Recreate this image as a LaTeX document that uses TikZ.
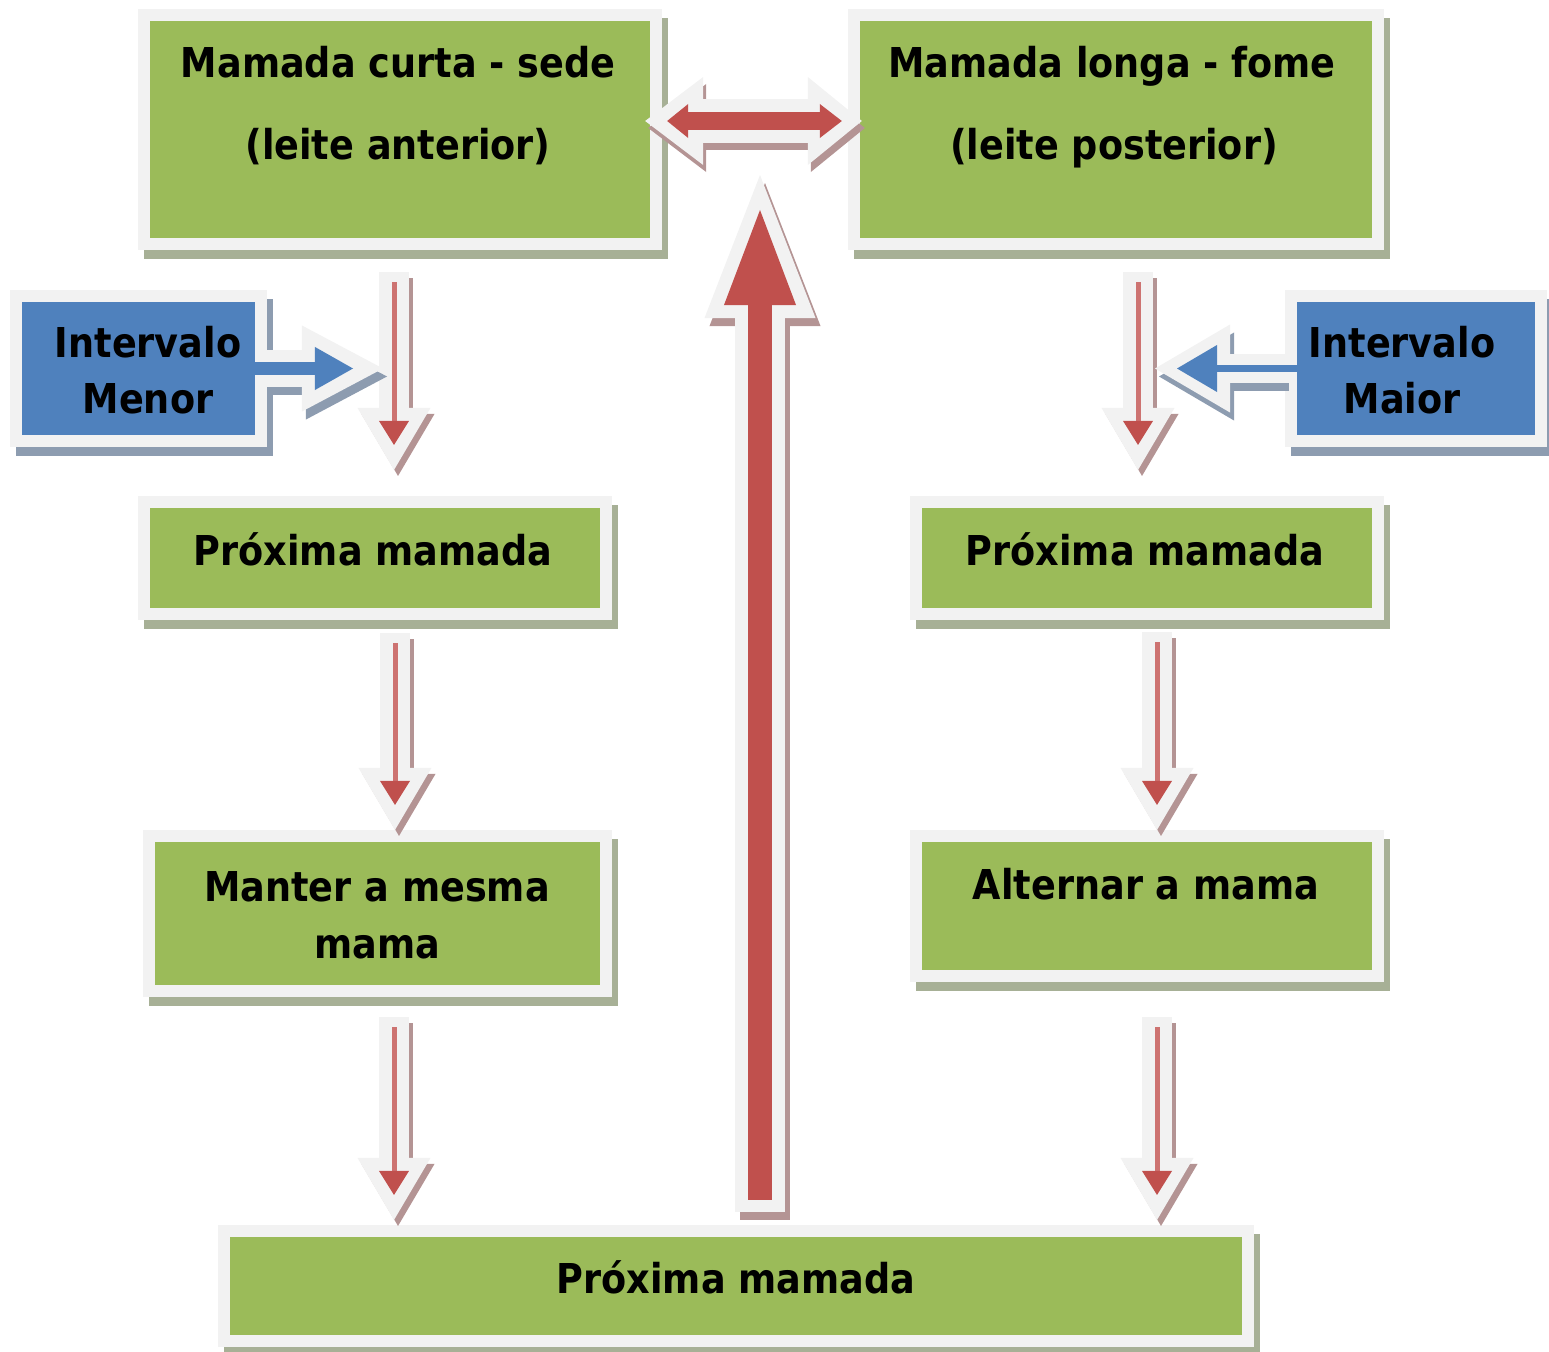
\documentclass[tikz,border=0pt]{standalone}
\usepackage{fontspec}
\usetikzlibrary{arrows.meta,calc}
\newfontfamily\boxfont{DejaVu Sans}[FakeStretch=0.89]

\definecolor{boxgreen}{HTML}{9BBB59}
\definecolor{boxblue}{HTML}{4F81BD}
\definecolor{halo}{HTML}{F2F2F2}
\definecolor{greenshadow}{HTML}{A7B096}
\definecolor{blueshadow}{HTML}{8D9CB0}
\definecolor{arrred}{HTML}{C0504D}
\definecolor{redshadow}{HTML}{B49494}

\tikzset{
  box/.style={rectangle, draw=halo, line width=0.12cm, inner sep=0pt, fill=box#1,
    preaction={draw=#1shadow, fill=#1shadow, line width=0.12cm,
      transform canvas={shift={(0.06cm,-0.09cm)}}}},
  lbl/.style={font=\fontsize{11.7}{14}\boxfont\bfseries, inner sep=0pt, anchor=base},
  % thin down arrows
  downhalo/.style={draw=halo, line width=0.30cm,
    -{Triangle[width=0.73cm,length=0.62cm,line width=0pt]}},
  downshade/.style={downhalo, draw=redshadow, transform canvas={shift={(0.04cm,-0.06cm)}}},
  downred/.style={draw=arrred!80!white, line width=0.05cm,
    -{Triangle[width=0.30cm,length=0.24cm,line width=0pt,color=arrred]}},
  % big arrow back up
  uphalo/.style={draw=halo, line width=0.50cm,
    -{Triangle[width=1.11cm,length=1.43cm,line width=0pt]}},
  upshade/.style={uphalo, draw=redshadow, transform canvas={shift={(0.05cm,-0.08cm)}}},
  upred/.style={draw=arrred, line width=0.24cm,
    -{Triangle[width=0.72cm,length=0.95cm,line width=0pt]}},
  % double arrow on top
  dblhalo/.style={draw=halo, line width=0.44cm,
    {Triangle[width=0.88cm,length=0.58cm,line width=0pt]}-{Triangle[width=0.88cm,length=0.54cm,line width=0pt]}},
  dblshade/.style={dblhalo, draw=redshadow, transform canvas={shift={(0.03cm,-0.07cm)}}},
  dblred/.style={draw=arrred, line width=0.18cm,
    {Triangle[width=0.34cm,length=0.21cm,line width=0pt]}-{Triangle[width=0.34cm,length=0.22cm,line width=0pt]}},
  % blue side arrows
  lefthalo/.style={draw=halo, line width=0.37cm,
    -{Triangle[width=0.86cm,length=0.81cm,line width=0pt]}},
  leftblue/.style={draw=boxblue, line width=0.12cm,
    -{Triangle[width=0.43cm,length=0.38cm,line width=0pt]}},
  righthalo/.style={draw=halo, line width=0.28cm,
    -{Triangle[width=0.88cm,length=0.75cm,line width=0pt]}},
  rightblue/.style={draw=boxblue, line width=0.06cm,
    -{Triangle[width=0.47cm,length=0.40cm,line width=0pt]}},
  sideshade/.style={draw=blueshadow, transform canvas={shift={(0.04cm,-0.08cm)}}}
}

\begin{document}
\begin{tikzpicture}[x=0.01cm,y=-0.01cm]
\useasboundingbox (0,0) rectangle (1549,1352);

% boxes
\node[box=green, minimum width=5.12cm, minimum height=2.29cm] (curta) at (400,129.5) {};
\node[box=green, minimum width=5.24cm, minimum height=2.29cm] (longa) at (1116,129.5) {};
\node[box=blue, minimum width=2.45cm, minimum height=1.45cm] (menor) at (138.5,368.5) {};
\node[box=blue, minimum width=2.50cm, minimum height=1.45cm] (maior) at (1416,368.5) {};
\node[box=green, minimum width=4.62cm, minimum height=1.12cm] (proxA) at (375,558) {};
\node[box=green, minimum width=4.62cm, minimum height=1.12cm] (proxB) at (1147,558) {};
\node[box=green, minimum width=4.57cm, minimum height=1.55cm] (manter) at (377.5,913.5) {};
\node[box=green, minimum width=4.62cm, minimum height=1.40cm] (alternar) at (1147,906) {};
\node[box=green, minimum width=10.24cm, minimum height=1.10cm] (fim) at (736,1286) {};

% texts
\node[lbl] (curtaT1) at (398,78) {Mamada curta - sede};
\node[lbl] (curtaT2) at (398,160) {(leite anterior)};
\node[lbl] (longaT1) at (1112,78) {Mamada longa - fome};
\node[lbl] (longaT2) at (1114,160) {(leite posterior)};
\node[lbl] (menorT1) at (148,358) {Intervalo};
\node[lbl] (menorT2) at (148,413) {Menor};
\node[lbl] (maiorT1) at (1402,358) {Intervalo};
\node[lbl] (maiorT2) at (1402,413) {Maior};
\node[lbl] (proxAT) at (373,565) {Próxima mamada};
\node[lbl] (proxBT) at (1145,565) {Próxima mamada};
\node[lbl] (manterT1) at (377,901) {Manter a mesma};
\node[lbl] (manterT2) at (377,958) {mama};
\node[lbl] (alternarT) at (1146,899) {Alternar a mama};
\node[lbl] (fimT) at (736,1293) {Próxima mamada};

% down arrows
\foreach \s/\t/\dx/\ga/\gb/\n in {curta/proxA/-6/22/26/1, proxA/manter/20/13/0/2,
    manter/fim/16.5/20/5/3, longa/proxB/22/22/26/4, proxB/alternar/10/12/0/5,
    alternar/fim/10/35/5/6} {
  \coordinate (s\n) at ($(\s.south)+(\dx,\ga)$);
  \coordinate (e\n) at ($(s\n |- \t.north)+(0,-\gb)$);
  \draw[downshade] (s\n) -- (e\n);
  \draw[downhalo] (s\n) -- (e\n);
  \draw[downred] ($(s\n)+(0,10)$) -- ($(e\n)+(0,-25)$);
}

% back up to the top
\coordinate (topo) at (760,175);
\coordinate (base) at ($(fim.north -| topo)+(0,-13)$);
\draw[upshade] (base) -- (topo);
\draw[uphalo] (base) -- (topo);
\draw[upred] ($(base)+(0,-12)$) -- ($(topo)+(0,35)$);

% between the two top boxes
\coordinate (dl) at ($(curta.east)+(-17,-8.5)$);
\coordinate (dr) at ($(dl -| longa.west)+(14,0)$);
\draw[dblshade] (dl) -- (dr);
\draw[dblhalo] (dl) -- (dr);
\draw[dblred] ($(dl)+(22,0)$) -- ($(dr)+(-20,0)$);

% intervals
\coordinate (pl) at ($(menor.east -| s1)+(-11,0)$);
\draw[lefthalo, sideshade] (menor.east) -- (pl);
\draw[lefthalo] ([xshift=-0.12cm]menor.east) -- (pl);
\draw[leftblue] ([xshift=-0.12cm]menor.east) -- ($(pl)+(-30,0)$);

\coordinate (pr) at ($(maior.west -| s4)+(17,0)$);
\draw[righthalo, sideshade] (maior.west) -- (pr);
\draw[righthalo] ([xshift=0.12cm]maior.west) -- (pr);
\draw[rightblue] ([xshift=0.12cm]maior.west) -- ($(pr)+(22,0)$);
\end{tikzpicture}
\end{document}
